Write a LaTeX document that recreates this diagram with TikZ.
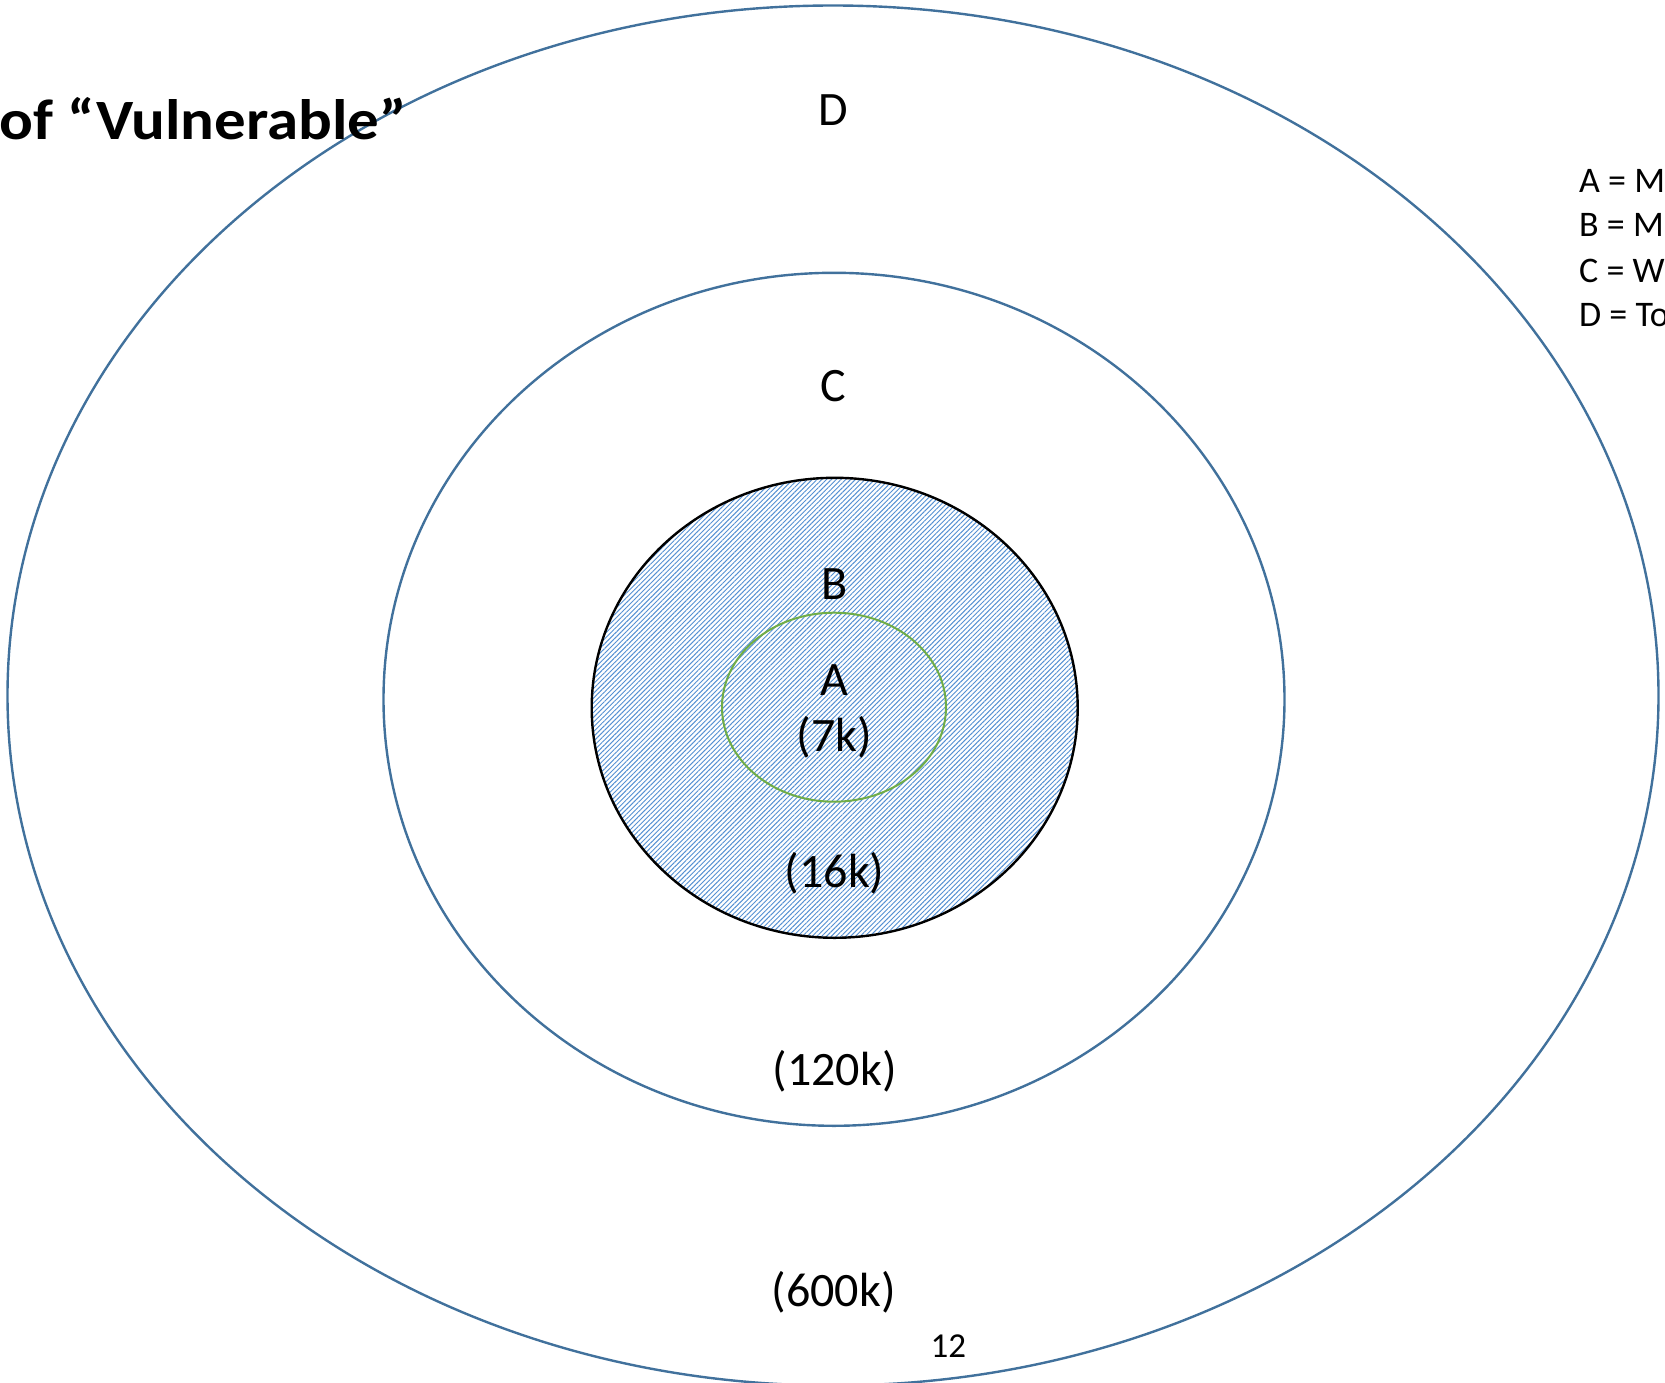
\documentclass[tikz,border=0pt]{standalone}
\usepackage{fontspec}
\setmainfont{Carlito}
\usetikzlibrary{shapes.geometric,patterns.meta}
\definecolor{ringblue}{HTML}{41719C}
\definecolor{hatchblue}{HTML}{5590D2}
\definecolor{ringgreen}{HTML}{70AD47}
\begin{document}
\begin{tikzpicture}[x=1pt,y=-1pt,
    ring/.style={ellipse, draw=ringblue, line width=2.4pt, inner sep=0pt},
    lbl/.style={font=\fontsize{48}{58}\selectfont, inner sep=0pt},
    key/.style={font=\fontsize{36}{43}\selectfont, anchor=west, inner sep=0pt}]
    \useasboundingbox (0,0) rectangle (1665,1383);
    \clip (0,0) rectangle (1665,1383);
    % rings
    \node[ring, minimum width=1651pt, minimum height=1380pt] (ringD) at (833,695.5) {};
    \node[ring, minimum width=901pt, minimum height=853pt] (ringC) at (834,699.3) {};
    \node[ring, draw=black, pattern={Lines[angle=45,distance=3.4pt,line width=0.95pt]},
        pattern color=hatchblue, minimum width=486pt, minimum height=460pt] (ringB) at (834.7,707.8) {};
    \node[ring, draw=ringgreen, line width=2pt, minimum width=224pt, minimum height=189pt] (ringA) at (834,707.2) {};
    % labels
    \node[lbl] (labD) at (833.6,110.4) {D};
    \node[lbl] (labC) at (833.6,386.5) {C};
    \node[lbl] (labB) at (834.6,584) {B};
    \node[lbl] (labA) at (834.6,679.6) {A};
    \node[lbl] (numA) at (834.6,737) {(7k)};
    \node[lbl] (numB) at (834.6,873) {(16k)};
    \node[lbl] (numC) at (834.6,1071.5) {(120k)};
    \node[lbl] (numD) at (833.6,1292.4) {(600k)};
    % title and key
    \node[font=\fontsize{57}{68}\selectfont\bfseries, anchor=east, inner sep=0pt] (title) at (407,119)
        {\scalebox{1.105}[1]{of “Vulnerable”}};
    \node[key] (keyA) at (1579,180.5) {A = M};
    \node[key] (keyB) at (1579,225) {B = M};
    \node[key] (keyC) at (1579,271) {C = W};
    \node[key] (keyD) at (1579,315.5) {D = To};
    \node[font=\fontsize{35}{42}\selectfont, inner sep=0pt] (page) at (948.3,1346.5) {12};
\end{tikzpicture}
\end{document}
